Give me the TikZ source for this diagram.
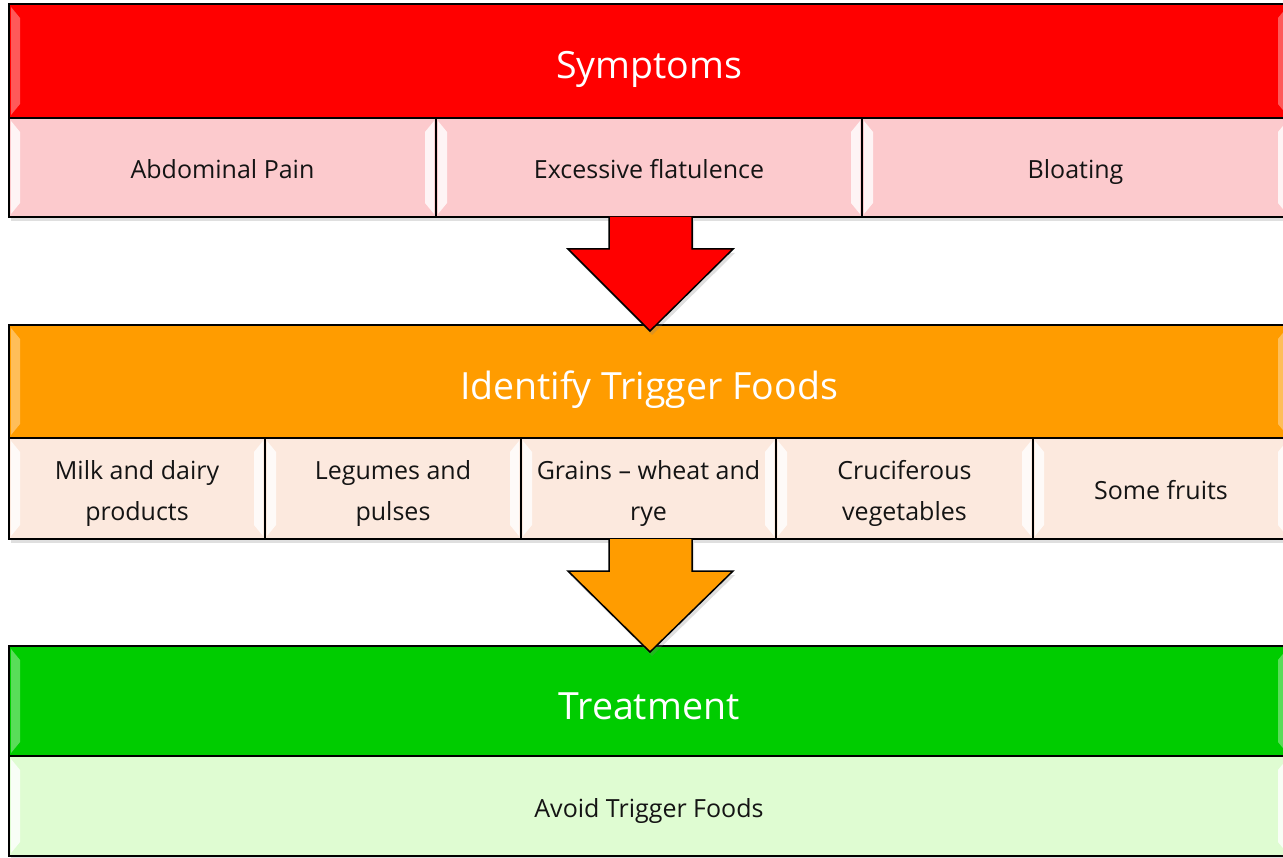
\documentclass[tikz,border=0pt]{standalone}
\usepackage{fontspec}
\setmainfont{Open Sans}
\usetikzlibrary{positioning,shadows}
\definecolor{symHead}{HTML}{FF0000}
\definecolor{symCell}{HTML}{FCCACD}
\definecolor{trigHead}{HTML}{FF9C00}
\definecolor{trigCell}{HTML}{FCE9DE}
\definecolor{treatHead}{HTML}{00CC00}
\definecolor{treatCell}{HTML}{DFFCD2}
\definecolor{cellText}{HTML}{141414}

\begin{document}
\begin{tikzpicture}[x=1pt,y=-1pt,every node/.style={font=\fontsize{25}{41}\selectfont},
  bevel/.style={path picture={
    \fill[white,opacity=#1] ([xshift=2pt,yshift=-3pt]path picture bounding box.north west)
      -- ([xshift=11pt,yshift=-14pt]path picture bounding box.north west)
      -- ([xshift=11pt,yshift=14pt]path picture bounding box.south west)
      -- ([xshift=2pt,yshift=3pt]path picture bounding box.south west) -- cycle;
    \fill[white,opacity=#1] ([xshift=-2pt,yshift=-3pt]path picture bounding box.north east)
      -- ([xshift=-11pt,yshift=-14pt]path picture bounding box.north east)
      -- ([xshift=-11pt,yshift=14pt]path picture bounding box.south east)
      -- ([xshift=-2pt,yshift=3pt]path picture bounding box.south east) -- cycle;}},
  head/.style={draw=black,line width=1.5pt,anchor=north west,outer sep=0pt,inner sep=0pt,
    minimum width=1280pt,text=white,font=\fontsize{37.5}{45}\selectfont,bevel=.35,
    text height=38pt,text depth=2pt},
  cell/.style={draw=black,line width=1.5pt,anchor=north west,outer sep=0pt,inner sep=0pt,
    align=center,text=cellText,bevel=.8,
    drop shadow={opacity=.25,shadow xshift=2pt,shadow yshift=-4pt}},
  oneline/.style={text height=24pt,text depth=1pt},
  twoline/.style={text height=64pt,text depth=1pt},
  down/.style={draw=black,line width=1.5pt,line join=miter,
    drop shadow={opacity=.25,shadow xshift=2pt,shadow yshift=-4pt}}]
\useasboundingbox (0,0) rectangle (1283,858);

% symptoms
\node[head,fill=symHead,minimum height=114pt] (hdrSym) at (9,4) {Symptoms};
\node[cell,oneline,fill=symCell,minimum width=427pt,minimum height=99pt] (symPain) at (9,118) {Abdominal Pain};
\node[cell,oneline,fill=symCell,minimum width=426pt,minimum height=99pt] (symFlat) at (436,118) {Excessive flatulence};
\node[cell,oneline,fill=symCell,minimum width=427pt,minimum height=99pt] (symBloat) at (862,118) {Bloating};

% trigger foods
\node[head,fill=trigHead,minimum height=113pt] (hdrTrig) at (9,325) {Identify Trigger Foods};
\draw[down,fill=symHead] (609,217) -- (609,249) -- (568,249) -- (650,331) -- (733,249) -- (692,249) -- (692,217);
\node[cell,twoline,fill=trigCell,minimum width=256pt,minimum height=101pt] (trigMilk) at (9,438) {Milk and dairy\\products};
\node[cell,twoline,fill=trigCell,minimum width=256pt,minimum height=101pt] (trigLeg) at (265,438) {Legumes and\\pulses};
\node[cell,twoline,fill=trigCell,minimum width=255pt,minimum height=101pt] (trigGrain) at (521,438) {Grains -- wheat and\\rye};
\node[cell,twoline,fill=trigCell,minimum width=257pt,minimum height=101pt] (trigVeg) at (776,438) {Cruciferous\\vegetables};
\node[cell,oneline,fill=trigCell,minimum width=256pt,minimum height=101pt] (trigFruit) at (1033,438) {Some fruits};

% treatment
\node[head,fill=treatHead,minimum height=110pt] (hdrTreat) at (9,646) {Treatment};
\draw[down,fill=trigHead] (609,539) -- (609,571) -- (568,571) -- (650,652) -- (733,571) -- (692,571) -- (692,539);
\node[cell,oneline,fill=treatCell,minimum width=1280pt,minimum height=100pt] (treatAvoid) at (9,756) {Avoid Trigger Foods};
\end{tikzpicture}
\end{document}
